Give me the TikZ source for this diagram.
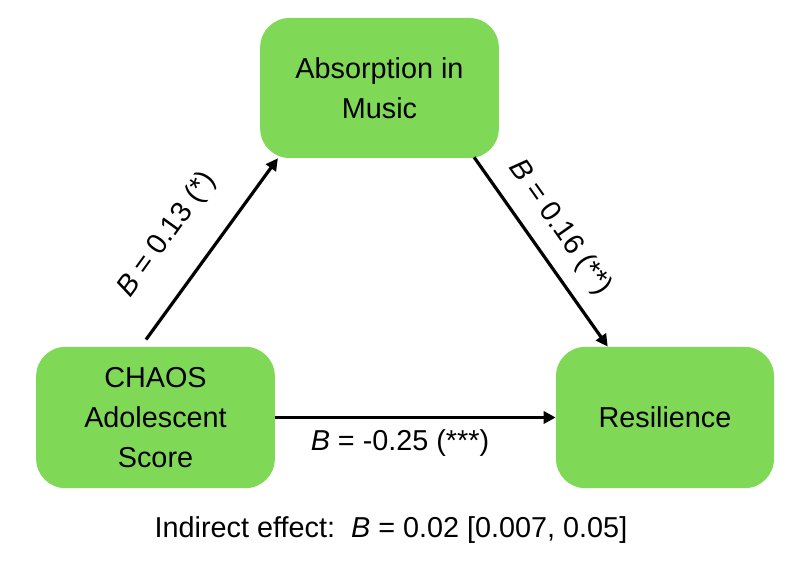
\documentclass[tikz,border=0pt]{standalone}
\usepackage{fontspec}
\setmainfont{Liberation Sans}
\usetikzlibrary{arrows.meta,positioning}
\definecolor{boxgreen}{RGB}{127,217,87}
\tikzset{>={Triangle[length=9pt,width=9pt]}}
\tikzset{
  varbox/.style={draw=none,fill=boxgreen,rounded corners=22pt,align=center,
    font=\fontsize{21.6}{30}\selectfont,inner sep=0pt},
  path/.style={->,line width=2.4pt},
  coef/.style={font=\fontsize{21.6}{26}\selectfont,inner sep=0pt}
}

\begin{document}
\begin{tikzpicture}[x=0.75pt,y=-0.75pt]
      \useasboundingbox (0,0) rectangle (794,577);
      \node[varbox,minimum width=179pt,minimum height=105pt] (absorb) at (379.5,88) {Absorption in\\Music};
      \node[varbox,minimum width=179pt,minimum height=106pt] (chaos) at (155.5,417.5) {CHAOS\\Adolescent\\Score};
      \node[varbox,minimum width=163.5pt,minimum height=106pt] (resil) at (665,417.5) {Resilience};
      \draw[path] ([shift={(-9.5,-7)}]chaos.north) -- ([xshift=13.5pt]absorb.south west);
      \draw[path] ([shift={(-25,-1)}]absorb.south east) -- ([xshift=39pt]resil.north west);
      \draw[path] (chaos.east) -- (resil.west);
      \node[coef,rotate=54.2] (ab) at (167,235) {\textit{B} = 0.13 (*)};
      \node[coef,rotate=-54.8] (bc) at (560,228) {\textit{B} = 0.16 (**)};
      \node[coef] (cprime) at (400,443) {\textit{B} = -0.25 (***)};
      \node[coef] (indirect) at (391,530) {Indirect effect:\ \ \textit{B} = 0.02 [0.007, 0.05]};
\end{tikzpicture}
\end{document}
